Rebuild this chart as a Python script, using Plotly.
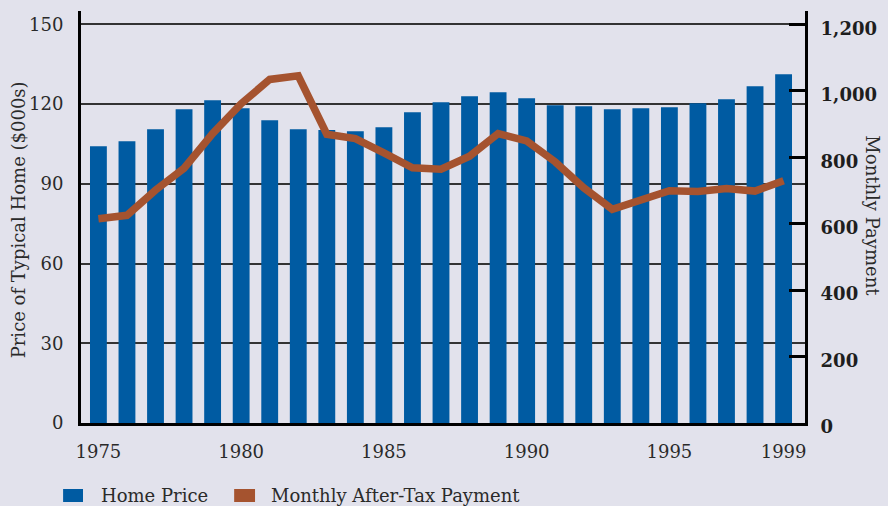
import plotly.graph_objects as go

years = list(range(1975, 2000))
home_price = [104.1, 106.0, 110.5, 118.0, 121.4, 118.4, 113.9, 110.5, 110.2, 109.8,
              111.3, 116.9, 120.7, 122.9, 124.4, 122.2, 119.5, 119.2, 118.0, 118.4,
              118.8, 120.3, 121.8, 126.7, 131.2]
monthly_payment = [615, 625, 701, 767, 871, 961, 1034, 1045, 869, 856,
                   813, 768, 764, 803, 871, 849, 786, 708, 643, 671,
                   699, 697, 706, 698, 729]
x_ticks = [1975, 1980, 1985, 1990, 1995, 1999]
left_ticks = [0, 30, 60, 90, 120, 150]
right_ticks = [0, 200, 400, 600, 800, 1000, 1200]
legend_labels = ["Home Price", "Monthly After-Tax Payment"]

BG = "#E2E2EC"
BAR = "#005BA2"
LINE = "#A5532F"
FONT = "DejaVu Serif"

W, H = 888, 506
L, R, T, B = 81, 79, 11, 83
pw, ph = W - L - R, H - T - B

def px2paper_x(px):
    return (px - L) / pw

def px2paper_y(py):
    return (H - B - py) / ph

fig = go.Figure()
fig.add_trace(go.Bar(x=years, y=home_price, marker=dict(color=BAR, line=dict(width=0)),
                     name=legend_labels[0], showlegend=False))
fig.add_trace(go.Scatter(x=years, y=monthly_payment, yaxis="y2", mode="lines",
                         line=dict(color=LINE, width=7.5), name=legend_labels[1],
                         showlegend=False))

fig.update_layout(
    width=W, height=H,
    margin=dict(l=L, r=R, t=T, b=B, pad=0),
    paper_bgcolor=BG, plot_bgcolor=BG,
    font=dict(family=FONT, size=18, color="#2a2a2a"),
    bargap=0.41,
    showlegend=False,
    xaxis=dict(range=[1974.39, 1999.75], tickvals=x_ticks, ticks="",
               showline=True, linewidth=3, linecolor="black", showgrid=False,
               zeroline=False, ticklabelstandoff=10,
               tickfont=dict(family=FONT, size=18, color="#2a2a2a")),
    yaxis=dict(range=[0, 155], tickvals=left_ticks, ticks="",
               showline=True, linewidth=3, linecolor="black",
               showgrid=True, gridcolor="#333333", gridwidth=1.6,
               zeroline=False, ticklabelstandoff=11,
               tickfont=dict(family=FONT, size=18, color="#2a2a2a")),
    yaxis2=dict(range=[0, 1240], tickvals=right_ticks, overlaying="y", side="right",
                ticks="inside", ticklen=16, tickwidth=3, tickcolor="black",
                showline=True, linewidth=3, linecolor="black", showgrid=False,
                zeroline=False, tickformat=",", ticklabelstandoff=9,
                ticklabelshift=4,
                tickfont=dict(family=FONT, size=18, color="#1e1e1e", weight="bold")),
)

# axis titles
fig.add_annotation(text="Price of Typical Home ($000s)", xref="paper", yref="paper",
                   x=px2paper_x(18), y=px2paper_y(220), textangle=-90, showarrow=False,
                   font=dict(family=FONT, size=18, color="#2a2a2a"),
                   xanchor="center", yanchor="middle")
fig.add_annotation(text="Monthly Payment", xref="paper", yref="paper",
                   x=px2paper_x(877), y=px2paper_y(216), textangle=90, showarrow=False,
                   font=dict(family=FONT, size=18, color="#2a2a2a"),
                   xanchor="center", yanchor="middle")

# legend (manual)
swatches = [(63, 83, BAR, 99), (235, 256, LINE, 270)]
for (x0, x1, col, tx), lab in zip(swatches, legend_labels):
    fig.add_shape(type="rect", xref="paper", yref="paper",
                  x0=px2paper_x(x0), x1=px2paper_x(x1),
                  y0=px2paper_y(489), y1=px2paper_y(502),
                  fillcolor=col, line=dict(width=0))
    fig.add_annotation(text=lab, xref="paper", yref="paper",
                       x=px2paper_x(tx), y=px2paper_y(495.5), showarrow=False,
                       xanchor="left", yanchor="middle",
                       font=dict(family=FONT, size=18, color="#2a2a2a"))

fig.write_html("out.html", config={"displayModeBar": False},
               post_script="document.body.style.margin='0';document.body.style.overflow='hidden';")
